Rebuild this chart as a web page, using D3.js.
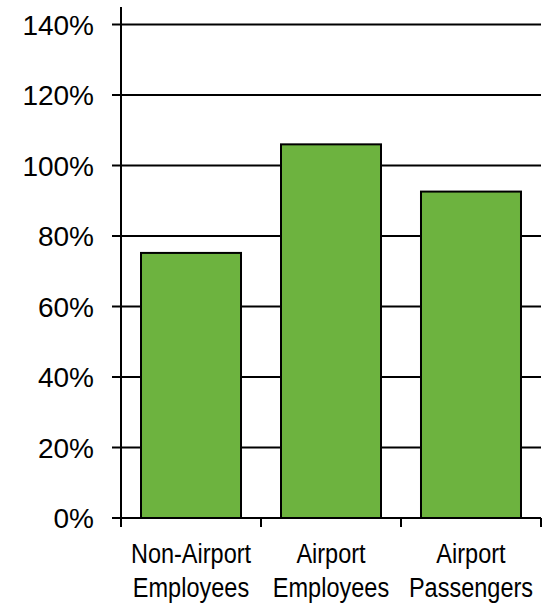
<!DOCTYPE html>
<html>
<head>
<meta charset="utf-8">
<script src="https://cdn.jsdelivr.net/npm/d3@7"></script>
<style>
  html, body { margin: 0; padding: 0; background: #fff; }
  svg { display: block; }
  text { font-family: "Liberation Sans", Arial, sans-serif; fill: #000; }
</style>
</head>
<body>
<svg id="chart" width="550" height="606"></svg>
<script>
const categories = [["Non-Airport", "Employees"], ["Airport", "Employees"], ["Airport", "Passengers"]];
const values = [75.2, 106.0, 92.6];
const yTicks = [0, 20, 40, 60, 80, 100, 120, 140];

(function () {
const svg = d3.select("#chart");
const mLeft = 121, mRight = 541, mTop = 24.5, mBottom = 518;

const x = d3.scaleBand()
  .domain(d3.range(categories.length))
  .range([mLeft, mRight])
  .paddingInner(0.2857)
  .paddingOuter(0.1429);
const step = (mRight - mLeft) / categories.length;

const y = d3.scaleLinear().domain([0, 140]).range([mBottom, mTop]);

// gridlines + y ticks
svg.append("g").selectAll("line")
  .data(yTicks)
  .join("line")
  .attr("x1", mLeft - 9).attr("x2", mRight)
  .attr("y1", d => y(d)).attr("y2", d => y(d))
  .attr("stroke", "#000").attr("stroke-width", 2);

// y labels
svg.append("g").selectAll("text")
  .data(yTicks)
  .join("text")
  .attr("x", 94)
  .attr("y", d => y(d) + 10)
  .attr("text-anchor", "end")
  .attr("font-size", 28)
  .text(d => d + "%");

// bars
svg.append("g").selectAll("rect")
  .data(values)
  .join("rect")
  .attr("x", (d, i) => x(i))
  .attr("width", x.bandwidth())
  .attr("y", d => y(d))
  .attr("height", d => y(0) - y(d))
  .attr("fill", "#6db33f")
  .attr("stroke", "#000")
  .attr("stroke-width", 2);

// y axis line
svg.append("line")
  .attr("x1", mLeft).attr("x2", mLeft)
  .attr("y1", 7).attr("y2", mBottom + 9)
  .attr("stroke", "#000").attr("stroke-width", 2);

// x axis line
svg.append("line")
  .attr("x1", mLeft - 9).attr("x2", mRight)
  .attr("y1", mBottom).attr("y2", mBottom)
  .attr("stroke", "#000").attr("stroke-width", 2);

// x ticks at band boundaries
svg.append("g").selectAll("line")
  .data(d3.range(categories.length + 1))
  .join("line")
  .attr("x1", i => mLeft + i * step).attr("x2", i => mLeft + i * step)
  .attr("y1", mBottom).attr("y2", mBottom + 9)
  .attr("stroke", "#000").attr("stroke-width", 2);

// x labels (condensed)
const sx = 0.84;
const lab = svg.append("g").attr("transform", `scale(${sx},1)`);
categories.forEach((lines, i) => {
  const cx = (x(i) + x.bandwidth() / 2) / sx;
  lines.forEach((t, j) => {
    lab.append("text")
      .attr("x", cx)
      .attr("y", 563.5 + j * 33.4)
      .attr("text-anchor", "middle")
      .attr("font-size", 28)
      .text(t);
  });
});
})();
</script>
</body>
</html>
